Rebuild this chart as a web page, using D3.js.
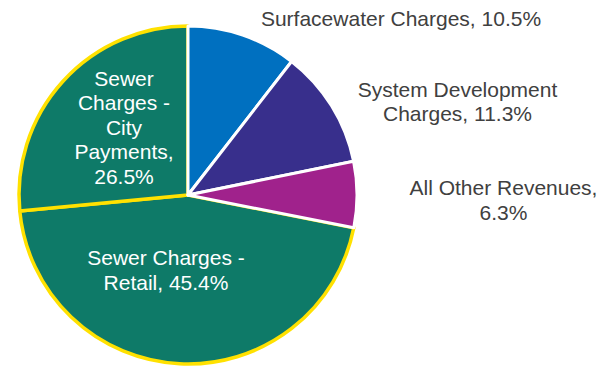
<!DOCTYPE html>
<html>
<head>
<meta charset="utf-8">
<script src="https://cdn.jsdelivr.net/npm/d3@7"></script>
<style>
  html, body { margin: 0; padding: 0; background: #fff; }
  svg { display: block; }
</style>
</head>
<body>
<svg id="chart" width="610" height="366"></svg>
<script>
// Revenue sources, clockwise from 12 o'clock
const categories = [
  "Surfacewater Charges",
  "System Development Charges",
  "All Other Revenues",
  "Sewer Charges - Retail",
  "Sewer Charges - City Payments"
];
const values = [10.5, 11.3, 6.3, 45.4, 26.5];
const colors = ["#0070C0", "#382F8C", "#A0228C", "#0E7A68", "#0E7A68"];
const strokes = ["#ffffff", "#ffffff", "#ffffff", "#FFE100", "#FFE100"];
// Label line breaks and whether the label sits inside the slice
const labelLines = [
  ["Surfacewater Charges, 10.5%"],
  ["System Development", "Charges, 11.3%"],
  ["All Other Revenues,", "6.3%"],
  ["Sewer Charges -", "Retail, 45.4%"],
  ["Sewer", "Charges -", "City", "Payments,", "26.5%"]
];
const inside = [false, false, false, true, true];

const data = categories.map((c, i) => ({ name: c, value: values[i], i }));

const svg = d3.select("#chart");
const cx = 188, cy = 195, R = 169;
const g = svg.append("g").attr("transform", `translate(${cx},${cy})`);

const pie = d3.pie().sort(null).value(d => d.value).startAngle(0).endAngle(2 * Math.PI);
const arcs = pie(data);
const arc = d3.arc().innerRadius(0).outerRadius(R);

// Highlighted (yellow-outlined) slices go first so the white separators sit on top
const isWhite = d => strokes[d.data.i] === "#ffffff" ? 1 : 0;
const order = arcs.slice().sort((a, b) => isWhite(a) - isWhite(b));
g.selectAll("path.slice")
  .data(order)
  .join("path")
  .attr("class", "slice")
  .attr("d", arc)
  .attr("fill", d => colors[d.data.i])
  .attr("stroke", d => strokes[d.data.i])
  .attr("stroke-width", d => isWhite(d) ? 3 : 3.5)
  .attr("stroke-linejoin", "round");

// Label block centres (relative to pie centre)
const labelPos = [
  [213, -176.5],
  [269.5, -93.5],
  [315.5, 5],
  [-22, 75],
  [-64, -67.5]
];
const lineH = 24.5;
const font = "'Liberation Sans', Arial, sans-serif";

arcs.forEach(a => {
  const i = a.data.i;
  const lines = labelLines[i];
  const [lx, ly] = labelPos[i];
  const t = g.append("text")
    .attr("text-anchor", "middle")
    .attr("font-family", font)
    .attr("font-size", 21)
    .attr("fill", inside[i] ? "#ffffff" : "#404040");
  const y0 = ly - (lines.length - 1) * lineH / 2;
  lines.forEach((ln, k) => {
    t.append("tspan")
      .attr("x", lx)
      .attr("y", y0 + k * lineH)
      .attr("dy", "0.35em")
      .text(ln);
  });
});
</script>
</body>
</html>
